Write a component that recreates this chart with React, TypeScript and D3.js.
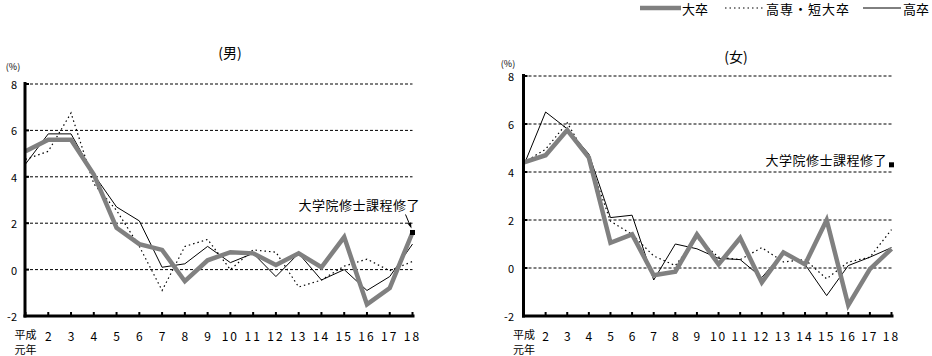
import React from "react";
import * as d3 from "d3";

const years = [1, 2, 3, 4, 5, 6, 7, 8, 9, 10, 11, 12, 13, 14, 15, 16, 17, 18];
const yearLabels = ["平成", "2", "3", "4", "5", "6", "7", "8", "9", "10", "11", "12", "13", "14", "15", "16", "17", "18"];
const yTicks = [-2, 0, 2, 4, 6, 8];
const seriesNames = ["大卒", "高専・短大卒", "高卒"];

// 男
const univM = [5.1, 5.6, 5.6, 4.1, 1.8, 1.1, 0.85, -0.5, 0.4, 0.75, 0.7, 0.2, 0.7, 0.1, 1.4, -1.5, -0.8, 1.6];
const juniorM = [4.75, 5.1, 6.75, 3.7, 2.55, 1.0, -0.9, 1.0, 1.3, 0.0, 0.85, 0.75, -0.75, -0.45, 0.15, 0.45, -0.05, 0.35];
const highM = [4.55, 5.85, 5.85, 4.1, 2.7, 2.1, 0.1, 0.25, 1.0, 0.3, 0.7, -0.3, 0.7, -0.45, 0.0, -0.9, -0.3, 1.1];
const gradM = 1.6;

// 女
const univF = [4.4, 4.7, 5.75, 4.6, 1.05, 1.4, -0.3, -0.15, 1.4, 0.15, 1.25, -0.6, 0.65, 0.15, 2.0, -1.55, -0.05, 0.8];
const juniorF = [4.4, 4.95, 6.05, 4.5, 1.95, 1.4, 0.5, 0.1, 1.25, 0.45, 0.35, 0.85, 0.25, 0.35, -0.45, 0.25, 0.45, 1.6];
const highF = [4.3, 6.5, 5.8, 4.75, 2.1, 2.2, -0.5, 1.0, 0.8, 0.4, 0.35, -0.4, 0.65, 0.15, -1.15, 0.1, 0.45, 0.85];
const gradF = 4.3;

const FONT = "'Noto Sans CJK JP', 'Noto Sans', sans-serif";

type PanelProps = {
  title: string;
  titleX: number;
  titleY: number;
  axisX: number;
  x0: number;
  x1: number;
  yTop: number;
  yBottom: number;
  univ: number[];
  junior: number[];
  high: number[];
  grad: number;
  gradText: { x: number; y: number };
  arrow: boolean;
  pctX: number;
  pctY: number;
  labelRight: number;
};

function Panel(p: PanelProps) {
  const x = d3.scaleLinear().domain([1, 18]).range([p.x0, p.x1]);
  const y = d3.scaleLinear().domain([-2, 8]).range([p.yBottom, p.yTop]);
  const line = d3
    .line<number>()
    .x((_, i) => x(years[i]))
    .y((d) => y(d));
  const gx = x(18);
  const gy = y(p.grad);
  return (
    <g>
      <text x={p.titleX} y={p.titleY} fontSize={14} fontFamily={FONT} textAnchor="middle" dominantBaseline="central">
        {p.title}
      </text>
      <text x={p.pctX} y={p.pctY} fontSize={9} fontFamily={FONT} textAnchor="middle" dominantBaseline="central">
        (%)
      </text>
      {yTicks.filter((t) => t > -2).map((t) => (
        <line key={"g" + t} x1={p.axisX} x2={p.x1} y1={y(t)} y2={y(t)} stroke="#000" strokeWidth={1} strokeDasharray="3,2" />
      ))}
      {yTicks.map((t) => (
        <g key={"yt" + t}>
          <rect x={p.axisX} y={y(t) - 1} width={4} height={2} fill="#000" />
          <text x={p.labelRight} y={y(t)} fontSize={11} fontFamily={FONT} textAnchor="end" dominantBaseline="central">
            {t}
          </text>
        </g>
      ))}
      {years.map((yr, i) => (
        <g key={"xt" + yr}>
          <rect x={x(yr) - 1} y={p.yBottom - 4} width={2} height={4} fill="#000" />
          <text x={x(yr)} y={i === 0 ? p.yBottom + 18 : p.yBottom + 19} fontSize={i === 0 ? 11 : 12} fontFamily={FONT} textAnchor="middle" dominantBaseline="central" letterSpacing={yr >= 10 ? 2 : 0}>
            {yearLabels[i]}
          </text>
        </g>
      ))}
      <text x={x(1)} y={p.yBottom + 33} fontSize={11} fontFamily={FONT} textAnchor="middle" dominantBaseline="central">
        元年
      </text>
      <path d={line(p.high) || ""} fill="none" stroke="#000" strokeWidth={1} />
      <path d={line(p.junior) || ""} fill="none" stroke="#000" strokeWidth={1.2} strokeDasharray="1.5,3" />
      <path d={line(p.univ) || ""} fill="none" stroke="#808080" strokeWidth={4.5} strokeLinejoin="miter" />
      <line x1={p.axisX} x2={p.axisX} y1={p.yTop - 2} y2={p.yBottom + 1.5} stroke="#000" strokeWidth={3} />
      <line x1={p.axisX - 1.5} x2={p.x1 + 2} y1={p.yBottom} y2={p.yBottom} stroke="#000" strokeWidth={3} />
      <rect x={gx - 2.5} y={gy - 2.5} width={5} height={5} fill="#000" />
      <text x={p.gradText.x} y={p.gradText.y} fontSize={13} fontFamily={FONT} textAnchor="end" dominantBaseline="central" letterSpacing={0.5}>
        大学院修士課程修了
      </text>
      {p.arrow && (
        <g>
          <line x1={gx - 7} y1={gy - 18} x2={gx - 2} y2={gy - 6} stroke="#000" strokeWidth={1} />
          <path d={`M${gx - 1},${gy - 4} L${gx - 5},${gy - 9} L${gx - 1.5},${gy - 10} Z`} fill="#000" />
        </g>
      )}
    </g>
  );
}

export default function App() {
  return (
    <svg width={932} height={356} style={{ position: "absolute", left: 0, top: 0, background: "#fff" }}>
      <rect width={932} height={356} fill="#fff" />
      {/* legend */}
      <g fontFamily={FONT} fontSize={13}>
        <line x1={640} x2={681} y1={8} y2={8} stroke="#808080" strokeWidth={4.5} />
        <text x={682} y={8} dominantBaseline="central">{seriesNames[0]}</text>
        <line x1={725} x2={764} y1={8} y2={8} stroke="#000" strokeWidth={1.2} strokeDasharray="1.5,3" />
        <text x={766} y={8} dominantBaseline="central" letterSpacing={1}>{seriesNames[1]}</text>
        <line x1={863} x2={901} y1={8} y2={8} stroke="#000" strokeWidth={1} />
        <text x={903} y={8} dominantBaseline="central">{seriesNames[2]}</text>
      </g>
      <Panel
        title="(男)"
        titleX={230}
        titleY={52}
        axisX={25}
        x0={25.5}
        x1={412.5}
        yTop={84}
        yBottom={316}
        univ={univM}
        junior={juniorM}
        high={highM}
        grad={gradM}
        gradText={{ x: 420, y: 204 }}
        arrow={true}
        pctX={13}
        pctY={66}
        labelRight={17}
      />
      <Panel
        title="(女)"
        titleX={736}
        titleY={56}
        axisX={523.5}
        x0={524}
        x1={891.5}
        yTop={76}
        yBottom={316}
        univ={univF}
        junior={juniorF}
        high={highF}
        grad={gradF}
        gradText={{ x: 887, y: 159 }}
        arrow={false}
        pctX={508}
        pctY={63}
        labelRight={514}
      />
    </svg>
  );
}
